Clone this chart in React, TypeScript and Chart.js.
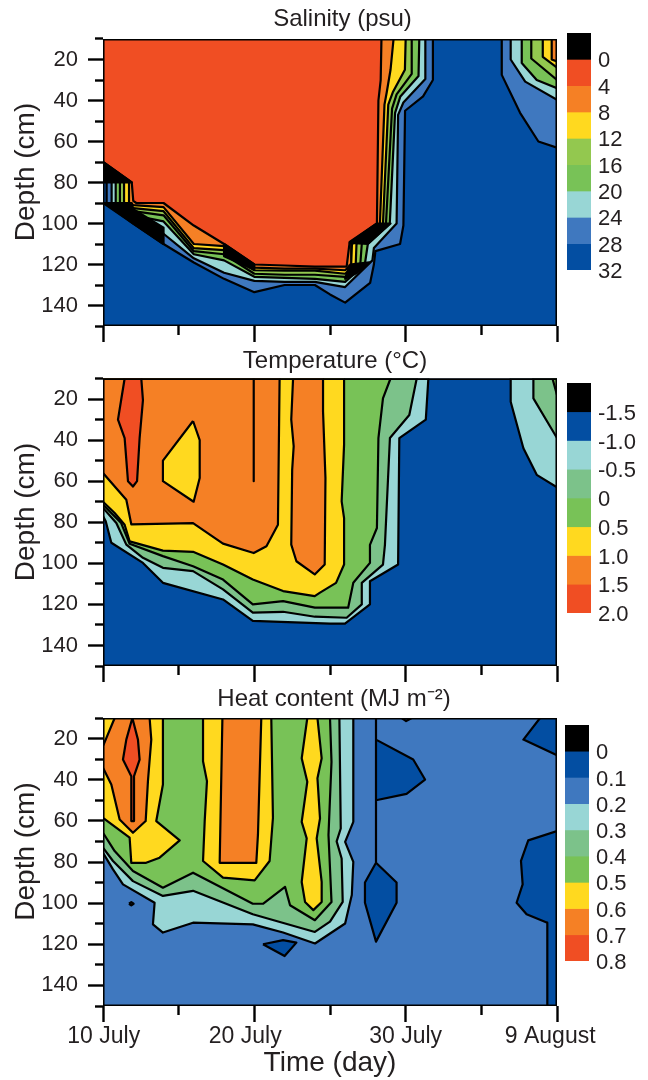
import React, { useEffect, useRef } from "react";
import { Chart, registerables } from "chart.js";

Chart.register(...registerables);

type Pt = [number, number]; // [days since 10 July, depth in cm]

const BLACK = "#000000";
const RED = "#f04e23";
const ORANGE = "#f58025";
const YELLOW = "#ffd91f";
const LIME = "#93c84f";
const GREEN = "#78c257";
const TEAL = "#98d6d5";
const SAGE = "#7cc28a";
const LBLUE = "#3f78bf";
const DBLUE = "#034ea2";

const xMajorTicks = [0, 10, 20, 30];
const xMinorTicks = [5, 15, 25];
const xLabelTicks = [0.05, 9.4, 20, 29.55];
const xLabels = ["10 July", "20 July", "30 July", "9 August"];
const yMajorTicks = [20, 40, 60, 80, 100, 120, 140];
const yMinorTicks = [10, 30, 50, 70, 90, 110, 130, 150];
const fullField: Pt[] = [[0, 10], [30, 10], [30, 150], [0, 150]];

// ---- Salinity contours
const salB: Pt[] = [[0, 10], [21.8, 10], [21.8, 30], [21.15, 38], [19.96, 45], [19.85, 101], [19.63, 110], [18, 113.5], [17.9, 120], [17.65, 129], [16, 138.6], [15, 134.6], [14, 130], [12, 130], [10, 133.5], [8, 127], [6, 119], [4, 110], [2, 100], [0.24, 90.5], [0.24, 80], [0, 79]];
const salT: Pt[] = [[0, 10], [21.3, 10], [21.3, 29.5], [19.85, 41], [19.5, 47], [19.4, 100], [17.9, 112], [17.8, 118], [16, 131], [14, 128.5], [12, 128.5], [10, 128], [8, 124], [6, 117], [4, 105], [2, 98], [0.57, 90], [0.57, 80], [0, 77]];
const salG: Pt[] = [[0, 10], [20.9, 10], [20.85, 28], [19.65, 38], [19.3, 46], [18.95, 100], [17.5, 110], [17.3, 120], [16, 128.5], [14, 127], [12, 126.5], [10, 126], [8, 118], [6, 115], [4, 99], [2, 96], [0.84, 90], [0.84, 80], [0, 76]];
const salL: Pt[] = [[0, 10], [20.4, 10], [20.4, 27], [19.4, 37], [19.1, 44], [18.7, 100], [17.1, 110], [17, 120], [16, 126], [14, 125], [12, 125], [10, 124.5], [8, 115], [6, 113.5], [4, 96], [2, 94], [1.12, 90], [1.12, 80], [0, 74.5]];
const salY: Pt[] = [[0, 10], [20, 10], [19.95, 25], [19.15, 36], [18.85, 42], [18.5, 100], [16.75, 110], [16.7, 120], [16, 124.5], [14, 123], [12, 123], [10, 122.8], [8, 113], [6, 112], [4, 94], [2, 92.5], [1.39, 90], [1.39, 80], [0, 73]];
const salO: Pt[] = [[0, 10], [19.2, 10], [19, 25], [18.75, 36], [18.6, 42], [18.3, 100], [16.45, 110], [16.4, 120], [16, 122.8], [14, 122], [12, 122], [10, 121.5], [8, 111], [6, 110], [4, 92], [2, 91], [1.72, 90], [1.72, 80], [0, 71.5]];
const salR: Pt[] = [[0, 10], [18.4, 10], [18.35, 30], [18.2, 40], [18.1, 100], [16.3, 109], [16.1, 121], [14, 121], [12, 120.5], [10, 120], [8, 110], [6, 101], [4, 90], [2.2, 90], [2, 89], [1.9, 80], [0, 70]];
const salCornerB: Pt[] = [[26.35, 10], [26.35, 27.5], [27.56, 46], [28.77, 60], [30, 63], [30, 10]];
const salCornerT: Pt[] = [[26.94, 10], [26.94, 20], [27.9, 30.8], [30, 39.7], [30, 10]];
const salCornerG: Pt[] = [[27.67, 10], [27.67, 21.7], [28.66, 30], [30, 34], [30, 10]];
const salCornerL: Pt[] = [[28.3, 10], [28.3, 19.5], [30, 30], [30, 10]];
const salCornerY: Pt[] = [[29.06, 10], [29.06, 18.7], [30, 24], [30, 10]];
const salCornerO: Pt[] = [[29.65, 10], [29.65, 20], [30, 21], [30, 10]];
// Places where the contour lines of the salinity field crowd into solid black
const salDenseA: Pt[] = [[0, 70], [1.9, 80], [0, 80]];
const salDenseB: Pt[] = [[18.1, 100], [16.3, 109.5], [17.5, 110], [19, 100]];
const salDenseC: Pt[] = [[8, 110], [10, 120], [10, 122.5], [8, 116]];
const salDenseD: Pt[] = [[0, 90], [1.9, 90], [2, 93], [4, 102], [4, 110], [2, 100]];
const salDenseE: Pt[] = [[16.3, 120], [17.6, 119], [16.8, 124], [16, 127]];

// ---- Temperature contours
const tmpT: Pt[] = [[0, 10], [21.5, 10], [21.33, 30], [19.58, 39], [19.5, 100.6], [17.64, 108.7], [17.64, 120], [15.99, 129.4], [15, 129.4], [9.9, 128], [7.93, 117.6], [3.96, 109.5], [2.64, 99.8], [0.55, 90], [0.18, 79.5], [0, 77]];
const tmpM: Pt[] = [[0, 10], [20.73, 10], [20.24, 27.8], [18.96, 39], [18.63, 91], [18.5, 100.6], [17.1, 109.5], [17.1, 120], [16.1, 126.5], [14, 126], [11.9, 123.6], [9.9, 124], [7.93, 112.7], [5.95, 103.8], [3.96, 102.2], [2.64, 97.3], [1.54, 90.9], [0.88, 80.4], [0, 73]];
const tmpG: Pt[] = [[0, 10], [19, 10], [18.5, 19.7], [18.2, 39], [18.1, 82.8], [17.64, 91], [17.64, 99.8], [16.54, 109.5], [16.2, 121.6], [14, 121.6], [11.9, 118.4], [9.9, 120], [7.93, 107.9], [5.95, 101.4], [3.96, 96.5], [1.76, 90.5], [1.2, 80.4], [0.66, 76.3], [0, 71.5]];
const tmpY: Pt[] = [[0, 10], [15.93, 10], [15.93, 42.3], [15.77, 69.8], [15.93, 78], [15.93, 100.6], [15.4, 109.5], [14.34, 114.3], [13.99, 116], [11.9, 113.5], [9.9, 107.9], [7.93, 100.6], [5.95, 94.4], [3.96, 93.8], [1.76, 89.3], [1.43, 81.2], [0.77, 75.5], [0, 70]];
const tmpOrangeA: Pt[] = [[0, 10], [11.67, 10], [11.56, 81.2], [10.8, 91.7], [9.96, 95], [7.93, 90.4], [5.95, 80.4], [1.87, 81], [1.54, 69], [0, 56]];
const tmpOrangeB: Pt[] = [[12.56, 10], [12.44, 30], [12.6, 43], [12.5, 54.5], [12.44, 90.9], [12.78, 99], [13.99, 105.4], [14.65, 100.6], [14.7, 58.5], [14.54, 26], [14.54, 10]];
const tmpOrangeLine: Pt[] = [[9.96, 10], [9.96, 60]];
const tmpRed: Pt[] = [[1.43, 10], [2.53, 10], [2.64, 20.5], [2.42, 39], [2.25, 60], [1.98, 62.6], [1.65, 60], [1.43, 39], [0.99, 30], [1.21, 20]];
const tmpIsland: Pt[] = [[5.95, 30.7], [6.39, 40], [6.39, 58.5], [5.99, 70], [3.96, 60], [3.96, 50]];
const tmpCornerT: Pt[] = [[26.94, 10], [26.94, 21.3], [27.78, 44], [28.66, 56.9], [30, 63], [30, 10]];
const tmpCornerM: Pt[] = [[28.44, 10], [28.44, 19.7], [30, 39], [30, 10]];
const tmpCornerG: Pt[] = [[29.7, 10], [30, 18], [30, 10]];

// ---- Heat content contours
const heatIslandA: Pt[] = [[18.04, 10], [18.04, 20.5], [20.5, 30.2], [21.28, 39.9], [20.06, 46.9], [18.04, 50], [18.04, 80.4], [19.4, 90], [19.4, 99.8], [18.04, 118.7], [17.31, 99.8], [17.31, 90], [18.04, 80.4], [18.04, 50], [18.04, 20.5]];
const heatIslandTop: Pt[] = [[19.74, 10], [20.03, 11.5], [20.4, 10]];
const heatCornerTop: Pt[] = [[28.88, 10], [27.78, 20.5], [30, 28.1], [30, 10]];
const heatCornerLow: Pt[] = [[30, 65], [28.1, 69.5], [27.62, 79.5], [27.73, 90.9], [27.33, 99.8], [27.99, 105.4], [29.36, 109.5], [29.36, 150], [30, 150]];
const heatIslandLow: Pt[] = [[10.57, 120], [11.9, 118], [12.78, 119.2], [12, 125.7]];
const heatDot: Pt[] = [[1.72, 100.3], [1.87, 99.5], [2.02, 100.3], [1.87, 101.1]];
const heatT: Pt[] = [[0, 10], [16.54, 10], [16.54, 60.5], [16, 70.2], [16.54, 79.9], [16.44, 96.1], [16, 109.9], [14.01, 119.6], [11.9, 114.3], [9.9, 110.3], [5.95, 109.5], [3.96, 114.3], [3.3, 110.3], [3.41, 99.8], [1.32, 90.9], [0.66, 83.6], [0, 75.5]];
const heatM: Pt[] = [[0, 10], [15.62, 10], [15.71, 63.7], [15.44, 70], [15.77, 78.3], [15.84, 99.4], [15, 109], [14, 114], [9.9, 105.4], [5.95, 94], [3.96, 96.5], [1.98, 89.3], [0.66, 79.5], [0, 73]];
const heatG: Pt[] = [[0, 10], [15, 10], [15.1, 31.3], [14.9, 66.9], [15.1, 99.4], [14, 108.3], [12.36, 101], [12.03, 92.1], [11.04, 97.7], [10.57, 100.3], [9.9, 100.3], [5.95, 85.2], [3.96, 92.5], [1.98, 84.4], [0.77, 74.7], [0, 65.8]];
const heatY1: Pt[] = [[0, 10], [3.96, 10], [3.96, 42.3], [3.52, 60.1], [5.07, 69.5], [3.74, 77.9], [2.85, 80.4], [1.87, 80.4], [1.76, 68.2], [0, 58.5]];
const heatY2: Pt[] = [[6.61, 10], [6.61, 31], [6.87, 40.7], [6.72, 60.1], [6.61, 79.5], [7.93, 87.6], [10.02, 88.9], [11.01, 79.5], [11.23, 58.5], [11.12, 10]];
const heatY3: Pt[] = [[13.5, 10], [14.17, 10], [14.45, 29.6], [14.17, 39.3], [14.34, 58.8], [14.12, 68.5], [14.45, 89.7], [14.45, 99.4], [13.9, 103.4], [13.35, 99.4], [13.13, 89.7], [13.46, 68.5], [13.13, 60.5], [13.5, 41], [13.13, 29.6]];
const heatO1: Pt[] = [[0.77, 10], [0, 23.7], [0, 34.2], [0.55, 42.3], [1.1, 59.3], [1.98, 65.8], [2.82, 60.1], [2.97, 40.7], [3.19, 20.5], [3.08, 10]];
const heatO2: Pt[] = [[7.89, 10], [7.71, 80.4], [10.13, 80.4], [10.24, 66.6], [10.46, 10]];
const heatR: Pt[] = [[1.94, 10], [2.31, 20.5], [2.42, 30.2], [2.05, 38.3], [2.05, 60.1], [1.87, 60.1], [1.87, 38.3], [1.32, 30.2], [1.54, 20.5]];

type Layer = { pts: Pt[]; color: string };

const salinityLayers: Layer[] = [
  { pts: fullField, color: DBLUE },
  { pts: salB, color: LBLUE }, { pts: salCornerB, color: LBLUE },
  { pts: salT, color: TEAL }, { pts: salCornerT, color: TEAL },
  { pts: salG, color: GREEN }, { pts: salCornerG, color: GREEN },
  { pts: salL, color: LIME }, { pts: salCornerL, color: LIME },
  { pts: salY, color: YELLOW }, { pts: salCornerY, color: YELLOW },
  { pts: salO, color: ORANGE }, { pts: salCornerO, color: ORANGE },
  { pts: salR, color: RED },
  { pts: salDenseA, color: BLACK }, { pts: salDenseB, color: BLACK }, { pts: salDenseC, color: BLACK },
  { pts: salDenseD, color: BLACK }, { pts: salDenseE, color: BLACK },
];
const temperatureLayers: Layer[] = [
  { pts: fullField, color: DBLUE },
  { pts: tmpT, color: TEAL }, { pts: tmpCornerT, color: TEAL },
  { pts: tmpM, color: SAGE }, { pts: tmpCornerM, color: SAGE },
  { pts: tmpG, color: GREEN }, { pts: tmpCornerG, color: GREEN },
  { pts: tmpY, color: YELLOW },
  { pts: tmpOrangeA, color: ORANGE }, { pts: tmpOrangeB, color: ORANGE }, { pts: tmpOrangeLine, color: ORANGE },
  { pts: tmpIsland, color: YELLOW },
  { pts: tmpRed, color: RED },
];
const heatLayers: Layer[] = [
  { pts: fullField, color: LBLUE },
  { pts: heatIslandA, color: DBLUE }, { pts: heatIslandTop, color: DBLUE }, { pts: heatCornerTop, color: DBLUE },
  { pts: heatCornerLow, color: DBLUE }, { pts: heatIslandLow, color: DBLUE }, { pts: heatDot, color: DBLUE },
  { pts: heatT, color: TEAL },
  { pts: heatM, color: SAGE },
  { pts: heatG, color: GREEN },
  { pts: heatY1, color: YELLOW }, { pts: heatY2, color: YELLOW }, { pts: heatY3, color: YELLOW },
  { pts: heatO1, color: ORANGE }, { pts: heatO2, color: ORANGE },
  { pts: heatR, color: RED },
];

// ---- Colour scale values
const salinityBandColors = [BLACK, RED, ORANGE, YELLOW, LIME, GREEN, TEAL, LBLUE, DBLUE];
const salinityEdges = [-4, 0, 4, 8, 12, 16, 20, 24, 28, 32];
const salinityLabels = ["0", "4", "8", "12", "16", "20", "24", "28", "32"];
const temperatureBandColors = [BLACK, DBLUE, TEAL, SAGE, GREEN, YELLOW, ORANGE, RED];
const temperatureEdges = [-2, -1.5, -1, -0.5, 0, 0.5, 1, 1.5, 2];
const temperatureLabels = ["-1.5", "-1.0", "-0.5", "0", "0.5", "1.0", "1.5", "2.0"];
const heatBandColors = [BLACK, DBLUE, LBLUE, TEAL, SAGE, GREEN, YELLOW, ORANGE, RED];
const heatEdges = [-0.1, 0, 0.1, 0.2, 0.3, 0.4, 0.5, 0.6, 0.7, 0.8];
const heatLabels = ["0", "0.1", "0.2", "0.3", "0.4", "0.5", "0.6", "0.7", "0.8"];

const FONT = "'Liberation Sans', Arial, sans-serif";
const INK = "#231f20";
const PLOT_LEFT = 103;
const PLOT_RIGHT = 557;

type PanelProps = {
  layers: Layer[]; title: string; canvasTop: number; canvasHeight: number; canvasWidth: number;
  plotTop: number; plotBottom: number; titleCenterY: number; showX: boolean;
};

function tickAxis(axis: "x" | "y", values: number[], length: number, min: number, max: number, extra: any) {
  return {
    type: "linear", axis, min, max, display: true,
    border: { display: false },
    grid: { display: true, drawOnChartArea: false, drawTicks: true, tickLength: length, tickColor: "#000", tickWidth: 2.4 },
    ticks: { display: false, autoSkip: false, maxRotation: 0 },
    afterBuildTicks: (s: any) => { s.ticks = values.map((value) => ({ value })); },
    ...extra,
  };
}

function Panel(p: PanelProps) {
  const ref = useRef<HTMLCanvasElement | null>(null);
  useEffect(() => {
    if (!ref.current) return;
    const block = p.plotTop - p.canvasTop;
    const padTop = p.titleCenterY - p.canvasTop - 14.4;
    const bottomSpace = p.canvasTop + p.canvasHeight - p.plotBottom;
    const zeroH = (s: any) => { s.height = 0; s.paddingLeft = 0; s.paddingRight = 0; };
    const zeroW = (s: any) => { s.width = 0; s.paddingTop = 0; s.paddingBottom = 0; };
    const datasets: any[] = p.layers.map((l, i) => ({
      data: [...l.pts, l.pts[0]].map(([x, y]) => ({ x, y })),
      showLine: true, fill: "shape", backgroundColor: l.color, borderColor: "#000", borderWidth: 2.2,
      borderJoinStyle: "round", pointRadius: 0, tension: 0, order: -i,
    }));
    datasets.push({
      data: [...fullField, fullField[0]].map(([x, y]) => ({ x, y })),
      showLine: true, fill: false, borderColor: "#000", borderWidth: 3, pointRadius: 0, tension: 0, order: -1000,
    });
    const chart = new Chart(ref.current, {
      type: "scatter",
      data: { datasets },
      options: {
        animation: false, responsive: false, events: [],
        layout: { padding: 0 },
        plugins: {
          legend: { display: false }, tooltip: { enabled: false },
          title: {
            display: true, text: p.title, color: INK, font: { family: FONT, size: 24, weight: "normal", lineHeight: 1.2 },
            padding: { top: padTop, bottom: block - padTop - 28.8 },
          },
          subtitle: {
            display: true, text: "Depth (cm)", position: "left", color: INK,
            font: { family: FONT, size: 28, weight: "normal", lineHeight: 1.2 },
            padding: { top: 9, bottom: 0.4 },
          },
        },
        scales: {
          x: tickAxis("x", xMajorTicks, 16, 0, 30, { weight: 0, position: "bottom", afterFit: zeroH }),
          xm: tickAxis("x", xMinorTicks, 9, 0, 30, { weight: 0, position: "bottom", afterFit: zeroH }),
          xl: {
            type: "linear", axis: "x", min: 0, max: 30, position: "bottom", weight: 2,
            border: { display: false }, grid: { display: false },
            ticks: {
              display: p.showX, autoSkip: false, maxRotation: 0, padding: 9, color: INK,
              font: { family: FONT, size: 23 },
              callback: (v: number) => { const i = xLabelTicks.indexOf(v); return i >= 0 ? xLabels[i] : ""; },
            },
            afterBuildTicks: (s: any) => { s.ticks = xLabelTicks.map((value) => ({ value })); },
            title: {
              display: p.showX, text: "Time (day)", color: INK, padding: 0,
              font: { family: FONT, size: 28, weight: "normal", lineHeight: 1.2 },
            },
            afterFit: (s: any) => { s.height = bottomSpace; s.paddingLeft = 0; s.paddingRight = 0; },
          },
          y: tickAxis("y", yMajorTicks, 15, 10, 150, {
            reverse: true, weight: 1, position: "left",
            ticks: { display: true, autoSkip: false, padding: 10, color: INK, font: { family: FONT, size: 22 } },
            afterFit: (s: any) => { s.width = PLOT_LEFT - 43; s.paddingTop = 0; s.paddingBottom = 0; },
          }),
          ym: tickAxis("y", yMinorTicks, 8, 10, 150, { reverse: true, weight: 0, position: "left", afterFit: zeroW }),
          yr: {
            type: "linear", axis: "y", min: 10, max: 150, position: "right", display: true,
            border: { display: false }, grid: { display: false }, ticks: { display: false },
            afterFit: (s: any) => { s.width = p.canvasWidth - PLOT_RIGHT; s.paddingTop = 0; s.paddingBottom = 0; },
          },
        },
      } as any,
    } as any);
    return () => chart.destroy();
  }, []);
  return (
    <canvas
      ref={ref}
      width={p.canvasWidth}
      height={p.canvasHeight}
      style={{ position: "absolute", left: 0, top: p.canvasTop, width: p.canvasWidth, height: p.canvasHeight }}
    />
  );
}

type BarProps = { colors: string[]; edges: number[]; labels: string[]; left: number; top: number; height: number };

function ColorBar(p: BarProps) {
  const ref = useRef<HTMLCanvasElement | null>(null);
  useEffect(() => {
    if (!ref.current) return;
    const tickValues = p.edges.slice(1);
    const chart = new Chart(ref.current, {
      type: "bar",
      data: {
        labels: [""],
        datasets: p.colors.map((c, i) => ({
          data: [[p.edges[i], p.edges[i + 1]]], backgroundColor: c, borderWidth: 0,
          barPercentage: 1, categoryPercentage: 1, grouped: false,
        })),
      },
      options: {
        animation: false, responsive: false, events: [],
        layout: { padding: { top: 0, bottom: 20, left: 0, right: 0 } },
        plugins: { legend: { display: false }, tooltip: { enabled: false } },
        scales: {
          x: { display: false },
          y: {
            type: "linear", position: "right", reverse: true, min: p.edges[0], max: p.edges[p.edges.length - 1],
            border: { display: false }, grid: { display: false, drawTicks: false },
            ticks: {
              autoSkip: false, padding: 7, labelOffset: 2, color: INK, font: { family: FONT, size: 22 },
              callback: (v: number) => {
                const i = tickValues.findIndex((t) => Math.abs(t - v) < 1e-6);
                return i >= 0 ? p.labels[i] : "";
              },
            },
            afterBuildTicks: (s: any) => { s.ticks = tickValues.map((value) => ({ value })); },
            afterFit: (s: any) => { s.width = 56; s.paddingTop = 0; s.paddingBottom = 0; },
          },
        },
      } as any,
    } as any);
    return () => chart.destroy();
  }, []);
  return (
    <canvas
      ref={ref}
      width={80}
      height={p.height + 20}
      style={{ position: "absolute", left: p.left, top: p.top, width: 80, height: p.height + 20 }}
    />
  );
}

export default function App() {
  return (
    <div style={{ position: "absolute", left: 0, top: 0, width: 648, height: 1080, overflow: "hidden", background: "#fff" }}>
      <Panel layers={salinityLayers} title="Salinity (psu)" canvasTop={0} canvasHeight={344} canvasWidth={685}
        plotTop={39} plotBottom={326} titleCenterY={19.5} showX={false} />
      <Panel layers={temperatureLayers} title="Temperature (°C)" canvasTop={342} canvasHeight={340} canvasWidth={670}
        plotTop={378.5} plotBottom={666} titleCenterY={361.5} showX={false} />
      <Panel layers={heatLayers} title="Heat content (MJ m⁻²)" canvasTop={623} canvasHeight={457} canvasWidth={668}
        plotTop={718} plotBottom={1006} titleCenterY={699} showX={true} />
      <ColorBar colors={salinityBandColors} edges={salinityEdges} labels={salinityLabels} left={567} top={33} height={237} />
      <ColorBar colors={temperatureBandColors} edges={temperatureEdges} labels={temperatureLabels} left={567} top={383} height={230} />
      <ColorBar colors={heatBandColors} edges={heatEdges} labels={heatLabels} left={565} top={725} height={236} />
    </div>
  );
}
